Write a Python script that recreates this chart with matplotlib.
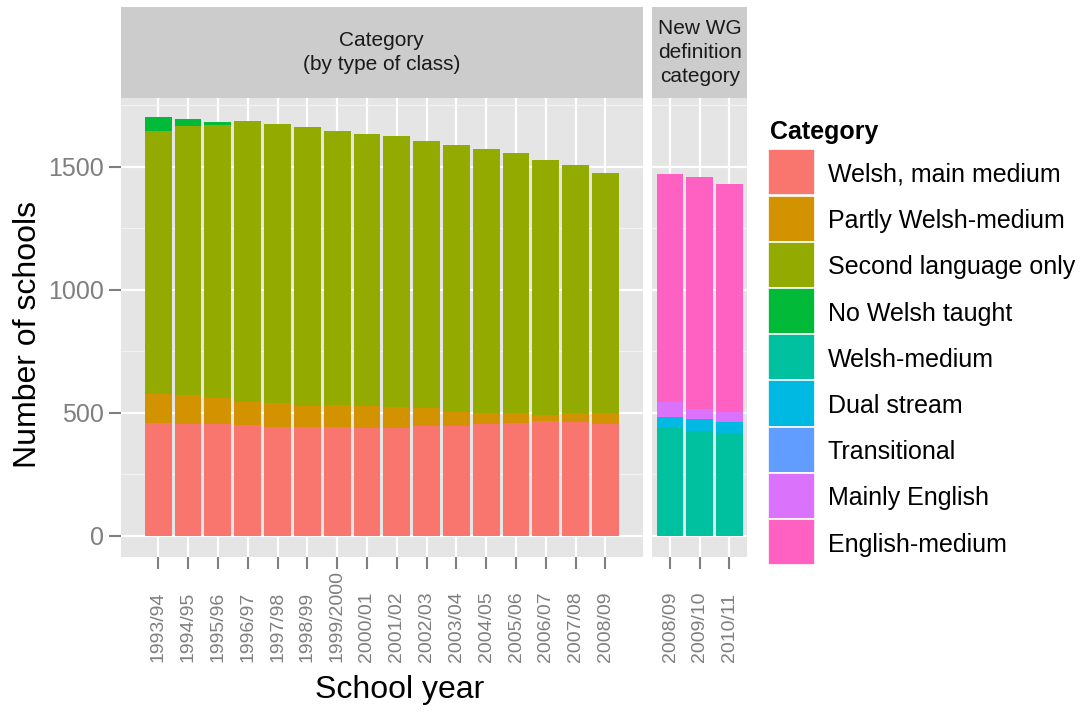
import matplotlib
matplotlib.use("Agg")
import matplotlib.pyplot as plt
from matplotlib.patches import Rectangle
import numpy as np

plt.rcParams["font.family"] = ["Liberation Sans", "DejaVu Sans"]

# --- data --------------------------------------------------------------
years_old = ["1993/94", "1994/95", "1995/96", "1996/97", "1997/98", "1998/99",
             "1999/2000", "2000/01", "2001/02", "2002/03", "2003/04", "2004/05",
             "2005/06", "2006/07", "2007/08", "2008/09"]
welsh_main = [459, 452, 454, 449, 443, 443, 442, 438, 439, 446, 446, 453, 456, 464, 461, 453]
partly_welsh = [117, 120, 105, 94, 96, 82, 91, 87, 82, 72, 58, 44, 41, 28, 36, 44]
second_lang = [1070, 1095, 1112, 1141, 1136, 1137, 1113, 1107, 1104, 1085, 1083, 1075,
               1057, 1036, 1010, 978]
no_welsh = [55, 26, 12, 0, 0, 0, 0, 0, 0, 0, 0, 0, 0, 0, 0, 0]

years_new = ["2008/09", "2009/10", "2010/11"]
welsh_medium = [437, 427, 419]
dual_stream = [47, 46, 44]
transitional = [0, 0, 0]
mainly_english = [61, 41, 41]
english_medium = [927, 943, 926]

categories = ["Welsh, main medium", "Partly Welsh-medium", "Second language only",
              "No Welsh taught", "Welsh-medium", "Dual stream", "Transitional",
              "Mainly English", "English-medium"]
colors = ["#F8766D", "#D39200", "#93AA00", "#00BA38", "#00C19F",
          "#00B9E3", "#619CFF", "#DB72FB", "#FF61C3"]

strip_labels = ["Category\n(by type of class)", "New WG\ndefinition\ncategory"]
y_ticks = [0, 500, 1000, 1500]
y_minor = [250, 750, 1250, 1750]

# --- layout (pixel based) ----------------------------------------------
W, H = 1081, 717
fig = plt.figure(figsize=(W / 100, H / 100), dpi=100)


def box(x0, y0, x1, y1):
    return [x0 / W, 1 - y1 / H, (x1 - x0) / W, (y1 - y0) / H]


panel_top, panel_bot = 97.8, 556.5
ax1 = fig.add_axes(box(121, panel_top, 642.7, panel_bot))
ax2 = fig.add_axes(box(652.3, panel_top, 747.3, panel_bot))
s1 = fig.add_axes(box(121, 7, 642.7, panel_top))
s2 = fig.add_axes(box(652.3, 7, 747.3, panel_top))

tick_col = "#7F7F7F"
tick_len = 8.8
# x labels sit with their start (bottom) on a common line, as in the reference
label_pad_x = (661.7 - panel_bot) * 0.72 - tick_len


def style_panel(ax, labels, xlim, show_y):
    ax.set_facecolor("#E5E5E5")
    for s in ax.spines.values():
        s.set_visible(False)
    ax.set_xlim(*xlim)
    ax.set_ylim(-85, 1780)
    ax.set_yticks(y_ticks)
    ax.set_yticks(y_minor, minor=True)
    ax.grid(True, which="major", axis="both", color="white", lw=1.6, zorder=0)
    ax.grid(True, which="minor", axis="y", color="#F2F2F2", lw=0.9, zorder=0)
    ax.set_axisbelow(True)
    x = np.arange(len(labels))
    ax.set_xticks(x)
    ax.set_xticklabels(labels, rotation=90, color=tick_col, fontsize=14)
    for lab in ax.get_xticklabels():
        lab.set_verticalalignment("bottom")
    ax.tick_params(axis="x", length=tick_len, width=1.5, color=tick_col, pad=label_pad_x)
    ax.tick_params(axis="y", which="minor", length=0)
    if show_y:
        ax.tick_params(axis="y", which="major", length=tick_len, width=1.5,
                       color=tick_col, labelcolor=tick_col, labelsize=18, pad=3.5)
    else:
        ax.tick_params(axis="y", which="major", length=0, labelleft=False)
    return x


x1 = style_panel(ax1, years_old, (-1.25, 16.25), True)
x2 = style_panel(ax2, years_new, (-0.6, 2.6), False)

bottom = np.zeros(len(years_old))
for vals, col in zip([welsh_main, partly_welsh, second_lang, no_welsh], colors[:4]):
    ax1.bar(x1, vals, width=0.9, bottom=bottom, color=col, lw=0, zorder=2)
    bottom += np.array(vals)

bottom = np.zeros(len(years_new))
for vals, col in zip([welsh_medium, dual_stream, transitional, mainly_english, english_medium],
                     colors[4:]):
    ax2.bar(x2, vals, width=0.9, bottom=bottom, color=col, lw=0, zorder=2)
    bottom += np.array(vals)

for s, text in zip([s1, s2], strip_labels):
    s.set_facecolor("#CCCCCC")
    s.set_xticks([])
    s.set_yticks([])
    for sp in s.spines.values():
        sp.set_visible(False)
    s.text(0.5, 0.5, text, ha="center", va="center", fontsize=15, color="#1A1A1A",
           linespacing=1.35, transform=s.transAxes)

fig.text(28 / W, 1 - 334 / H, "Number of schools", rotation=90, ha="center", va="center",
         fontsize=23, color="black")
fig.text(400 / W, 1 - 690 / H, "School year", ha="center", va="center",
         fontsize=23, color="black")

# --- legend -------------------------------------------------------------
lg = fig.add_axes([0, 0, 1, 1])
lg.set_xlim(0, W)
lg.set_ylim(H, 0)
lg.axis("off")
lg.patch.set_alpha(0)
lg.text(770, 139, "Category", fontsize=18, fontweight="bold", va="baseline", ha="left")
key_top, key_h = 149.3, 46.2
for i, (name, col) in enumerate(zip(categories, colors)):
    y0 = key_top + i * key_h
    lg.add_patch(Rectangle((768, y0), 46.5, key_h, facecolor=col, edgecolor="white", lw=1.2))
    lg.text(828, y0 + key_h / 2 + 9.5, name, fontsize=18, va="baseline", ha="left")

fig.savefig("out.png", dpi=100)
